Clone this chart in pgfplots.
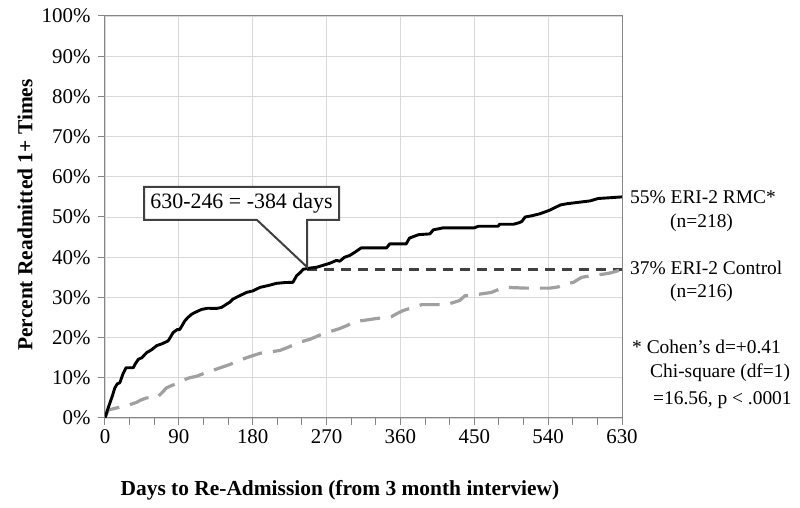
\documentclass[border=0pt]{standalone}
\usepackage{pgfplots}
\pgfplotsset{compat=1.18}
\usepackage{fontspec}
\setmainfont{Liberation Serif}
\definecolor{gridc}{HTML}{D9D9D9}
\definecolor{axc}{HTML}{868686}
\definecolor{ctrl}{HTML}{A0A0A0}
\definecolor{dk}{HTML}{404040}

\pgfplotstableread{
x y
0 0
3 2
6 3.75
9 5.5
12 7.5
15 8.5
18 8.75
22 11
25.6 12.5
34.5 12.5
37 13.5
40.6 14.6
45 15
50.7 16.25
57 17
63 18
70 18.5
77 19.2
80 20.2
83 21.25
88 22
91 22
94 23
97.4 24.2
101 25
105.6 25.8
110 26.3
117.7 27
125 27.3
136 27.25
142 27.5
148 28.3
152 28.8
156 29.6
163 30.3
172.6 31.25
180 31.6
189 32.5
200 33
209 33.5
220 33.7
229 33.75
233.5 35.4
238 36.2
241.6 37
250 37.3
258 37.5
266 38
274 38.5
282 39.2
286 39
292 40
298 40.4
305 41.3
312 42.3
330 42.3
343 42.3
347 43.3
367 43.3
371 44.75
382 45.6
396 45.8
400 46.8
412 47.3
450 47.3
455 47.7
479 47.7
481 48.2
498 48.2
505 48.6
508 48.9
512 50
520 50.3
530 50.8
542 51.7
548 52.3
555 53
563 53.3
571 53.5
591 54
601 54.6
616 54.8
630 55
}\rmc

\pgfplotstableread{
x y
0 0
4 2
12 2.4
22 2.9
30 3.3
38.6 3.9
44 4.5
50.7 5
63 5
68 6
75 7.5
85 8.4
95 9.4
103 10
111.7 10.4
122 11.2
132 11.9
142 12.6
152 13.3
162 14.2
172.6 15
180 15.5
189 16.1
200 16.4
213 16.8
222 17.5
231 18.3
240 19
250 19.6
258 20.3
266 21
276 21.6
286 22.25
295 23
304 24
316 24.3
331 24.75
349 25.2
356 26
363 26.7
375 27.5
386 28.2
416 28.2
432 29.2
438.6 30.4
453 30.7
463 31
471 31.25
480 32
487.5 32.5
500 32.4
514 32.3
542 32.3
552 32.6
559 33.2
571 33.75
576 34.4
581 35
590 35.3
599 35.6
608 35.8
616 36.1
623 36.5
630 37
}\ctrltab

\begin{document}
\begin{tikzpicture}
\begin{axis}[
  at={(0,0)}, anchor=south west,
  scale only axis, width=517bp, height=402bp,
  xmin=0, xmax=630, ymin=0, ymax=100,
  xtick={0,90,...,630},
  minor xtick={30,60,120,150,210,240,300,330,390,420,480,510,570,600},
  ytick={0,10,...,100},
  xtick pos=bottom, ytick pos=left,
  yticklabel={\pgfmathprintnumber{\tick}\%},
  /pgf/number format/assume math mode=true,
  grid=major, major grid style={gridc, line width=0.8bp},
  minor grid style={draw=none},
  axis line style={axc, line width=1bp},
  tick style={axc, line width=1bp},
  tick align=outside,
  major tick length=7bp, minor tick length=7bp,
  ticklabel style={font=\fontsize{21}{24}\selectfont},
  yticklabel style={xshift=-4bp},
  xticklabel style={yshift=-1bp},
]
\addplot[dk, line width=2.8bp, dash pattern=on 10bp off 7bp] coordinates {(246,37) (630,37)};
\addplot[ctrl, line width=3.2bp, dash pattern=on 20bp off 11bp] table[x=x,y=y] {\ctrltab};
\addplot[black, line width=2.9bp, line join=round] table[x=x,y=y] {\rmc};
\end{axis}
\begin{scope}[x=1bp,y=1bp]
\draw[dk, line width=2bp, fill=white, line join=miter] (39,231) -- (234,231) -- (234,198) -- (202,198) -- (202,151) -- (152,198) -- (39,198) -- cycle;
\node[font=\fontsize{22}{26}\selectfont, inner sep=0] at (136.5,214.5) {630-246 = -384 days};
\begin{scope}[every node/.style={font=\fontsize{19.5}{23}\selectfont, inner sep=0, anchor=west}]
\node at (525,221) {55\% ERI-2 RMC*};
\node at (565,195) {(n=218)};
\node at (525,150) {37\% ERI-2 Control};
\node at (565,125) {(n=216)};
\node at (527,71) {* Cohen's d=+0.41};
\node at (545,45) {Chi-square (df=1)};
\node at (548,18) {=16.56, p < .0001};
\end{scope}
\node[font=\fontsize{21.5}{25}\selectfont\bfseries, inner sep=0] at (235,-72) {Days to Re-Admission (from 3 month interview)};
\node[font=\fontsize{21.5}{25}\selectfont\bfseries, inner sep=0, rotate=90] at (-80,203) {Percent Readmitted 1+ Times};
\path[use as bounding box] (-105,-90) rectangle (695,418);
\end{scope}
\end{tikzpicture}
\end{document}
